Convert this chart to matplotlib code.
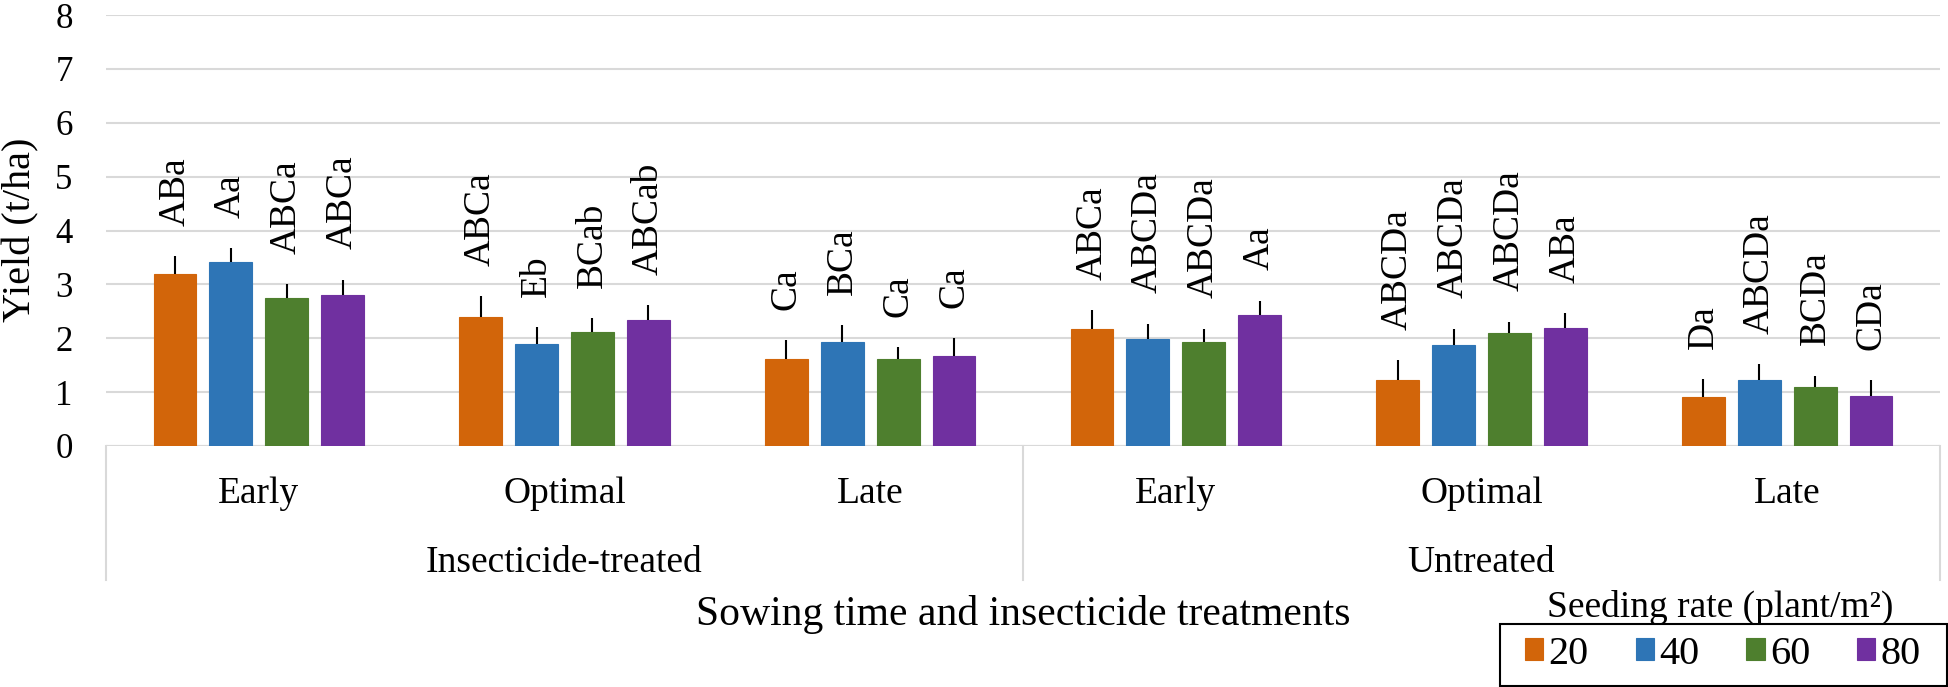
import matplotlib
matplotlib.use("Agg")
import matplotlib.pyplot as plt
import numpy as np
from matplotlib.patches import Rectangle

plt.rcParams['font.family'] = ['Liberation Serif', 'DejaVu Serif']

# groups (sowing time within treatment)
times = ['Early', 'Optimal', 'Late', 'Early', 'Optimal', 'Late']
treatments = ['Insecticide-treated', 'Untreated']
rates = ['20', '40', '60', '80']
colors = ['#D2650A', '#2E75B6', '#4E7F2E', '#7030A0']

# yield (t/ha), one list per seeding rate
y20 = [3.19, 2.39, 1.61, 2.18, 1.22, 0.91]
y40 = [3.41, 1.89, 1.93, 1.98, 1.87, 1.22]
y60 = [2.74, 2.11, 1.61, 1.93, 2.09, 1.09]
y80 = [2.81, 2.33, 1.67, 2.44, 2.19, 0.93]
# upper error bars
e20 = [0.33, 0.39, 0.35, 0.34, 0.37, 0.33]
e40 = [0.26, 0.31, 0.31, 0.29, 0.31, 0.30]
e60 = [0.26, 0.26, 0.22, 0.25, 0.22, 0.21]
e80 = [0.28, 0.28, 0.33, 0.26, 0.27, 0.29]
# letters of significance
l20 = ['ABa', 'ABCa', 'Ca', 'ABCa', 'ABCDa', 'Da']
l40 = ['Aa', 'Eb', 'BCa', 'ABCDa', 'ABCDa', 'ABCDa']
l60 = ['ABCa', 'BCab', 'Ca', 'ABCDa', 'ABCDa', 'BCDa']
l80 = ['ABCa', 'ABCab', 'Ca', 'Aa', 'ABa', 'CDa']

series = [y20, y40, y60, y80]
errs = [e20, e40, e60, e80]
letters = [l20, l40, l60, l80]

W, H = 1949, 687
fig = plt.figure(figsize=(W / 100, H / 100), dpi=100)
ax = fig.add_axes([106 / W, 1 - 446 / H, (1940 - 106) / W, (446 - 15) / H])

x = np.arange(len(times))
step = 0.183
width = 0.14
for i in range(4):
    xs = x + (i - 1.5) * step
    vals = np.array(series[i])
    ee = np.array(errs[i])
    ax.bar(xs, vals, width, color=colors[i], edgecolor=colors[i], linewidth=0.8,
           label=rates[i], zorder=3)
    ax.errorbar(xs, vals, yerr=[np.zeros_like(ee), ee], fmt='none', ecolor='black',
                elinewidth=1.5, capsize=0, zorder=4)
    for xi, v, e, t in zip(xs, vals, ee, letters[i]):
        ax.annotate(t, (xi, v + e), xytext=(0, 22), textcoords='offset points',
                    rotation=90, ha='center', va='bottom', fontsize=27)

ax.set_xlim(-0.5, 5.5)
ax.set_ylim(0, 8)
ax.set_yticks(range(9))
ax.set_xticks([])
ax.tick_params(axis='y', length=0, pad=24, labelsize=25)
for s in ax.spines.values():
    s.set_visible(False)
ax.grid(axis='y', color='#D9D9D9', linewidth=1.5, zorder=0)
ax.axhline(0, color='#D9D9D9', linewidth=1.5, zorder=1)

# multi-level category axis
tr = ax.get_xaxis_transform()
for xb in [-0.5, 2.5, 5.5]:
    ax.plot([xb, xb], [0, -0.311], color='#D9D9D9', linewidth=1.5, transform=tr, clip_on=False)
for xi, t in zip(x, times):
    ax.text(xi, -0.132, t, transform=tr, ha='center', va='baseline', fontsize=27)
for k, t in enumerate(treatments):
    ax.text(3 * k + 1, -0.292, t, transform=tr, ha='center', va='baseline', fontsize=27)

fig.text(21 / W, 1 - 230 / H, 'Yield (t/ha)', rotation=90, ha='center', va='center', fontsize=29)
fig.text(1023 / W, 1 - 625 / H, 'Sowing time and insecticide treatments',
         ha='center', va='baseline', fontsize=30)

# legend
fig.text(1720 / W, 1 - 617 / H, 'Seeding rate (plant/m\u00b2)', ha='center', va='baseline', fontsize=27)
fig.legend(loc='center', bbox_to_anchor=(1723 / W, 1 - 654 / H), ncol=4, frameon=False,
           fontsize=29, handlelength=0.45, handleheight=0.45, handletextpad=0.13,
           columnspacing=1.17, borderpad=0)
fig.patches.append(Rectangle((1500 / W, 1 / H), 447 / W, 62 / H, transform=fig.transFigure,
                             fill=False, edgecolor='black', linewidth=1.5))

fig.savefig('out.png', dpi=100)
